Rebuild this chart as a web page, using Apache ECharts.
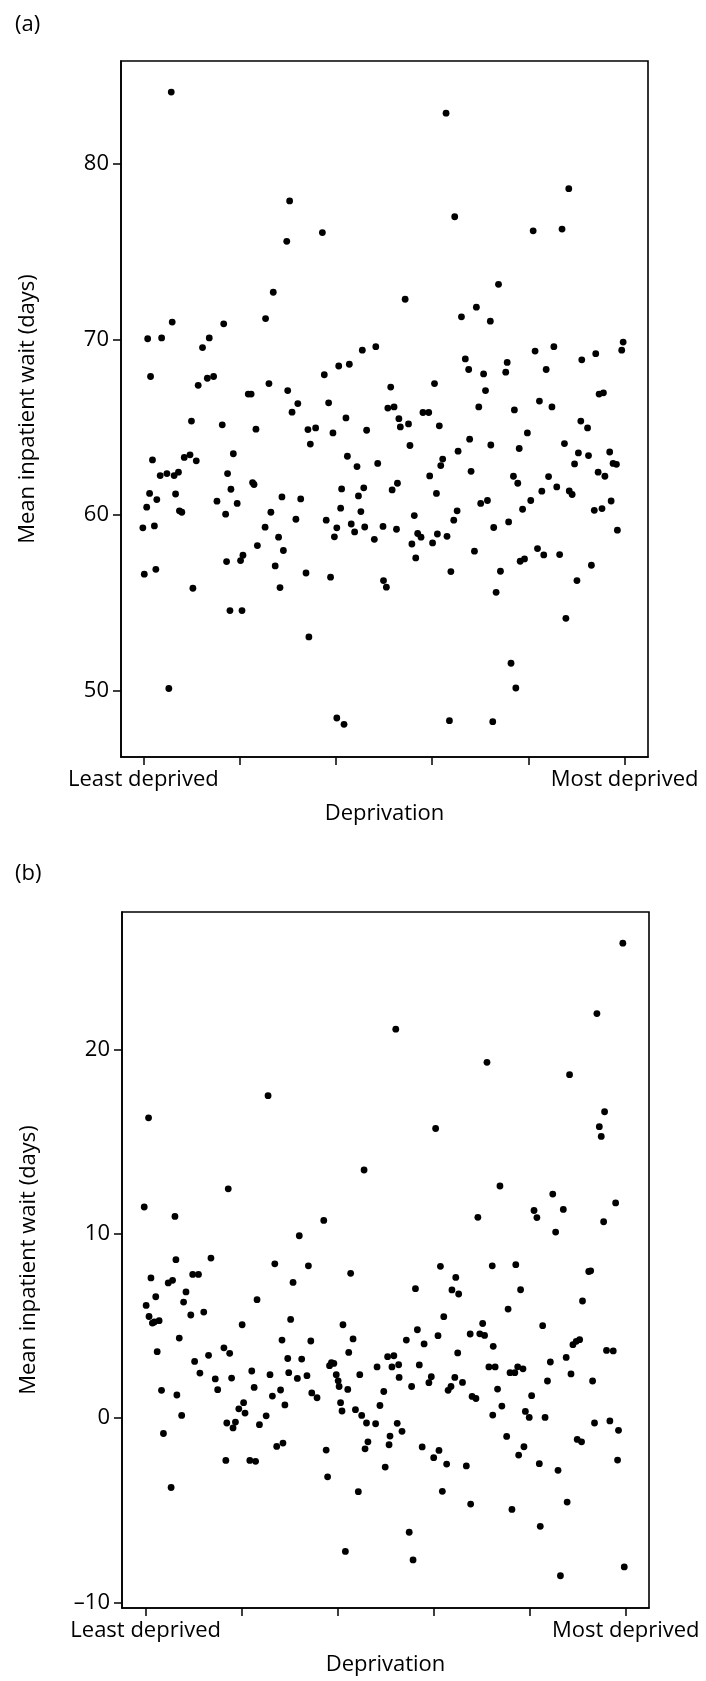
<!DOCTYPE html>
<html>
<head>
<meta charset="utf-8">
<script src="https://cdn.jsdelivr.net/npm/echarts@6/dist/echarts.min.js"></script>
<style>
html,body{margin:0;padding:0;background:#fff;}
#chart{width:706px;height:1681px;}
</style>
</head>
<body>
<div id="chart"></div>
<script>
// ---------- DATA ----------
const panelLabels = ['(a)', '(b)'];
const xTickValues = [0, 20, 40, 60, 80, 100];
const xTickLabels = { 0: 'Least deprived', 100: 'Most deprived' };
const xAxisTitle = 'Deprivation';
const yAxisTitle = 'Mean inpatient wait (days)';
const yTicksA = [50, 60, 70, 80];
const yTicksB = [-10, 0, 10, 20];

// panel (a): [deprivation position, mean wait]
const pointsA = [
[5.8,84.1],[30.4,77.9],[29.8,75.6],[37.2,76.1],[27.0,72.7],[25.4,71.2],[0.9,70.05],[3.8,70.1],[6.0,71.0],[16.7,70.9],[13.7,70.1],[12.3,69.55],[1.5,67.9],[11.4,67.4],[13.3,67.8],[14.6,67.9],[21.8,66.9],[22.4,66.9],[26.1,67.5],[30.0,67.1],[37.6,68.0],[40.6,68.5],[42.8,68.6],[45.5,69.4],[48.3,69.6],[51.4,67.3],
[62.9,82.9],[64.7,77.0],[88.4,78.6],[81.0,76.2],[87.0,76.3],[73.8,73.15],[54.4,72.3],[66.1,71.3],[69.2,71.85],[72.1,71.05],[66.9,68.9],[67.6,68.3],[70.7,68.05],[71.1,67.1],[75.3,68.15],[75.6,68.7],[81.4,69.35],[85.3,69.6],[83.7,68.3],[91.1,68.85],[94.0,69.2],[99.7,69.86],[99.4,69.4],[60.5,67.5],[94.7,66.9],[95.6,66.97],
[32.1,66.36],[30.9,65.87],[38.5,66.4],[10.0,65.36],[16.4,65.15],[23.4,64.9],[34.2,64.88],[35.8,64.97],[39.4,64.69],[42.1,65.54],[46.4,64.84],[50.8,66.1],[52.1,66.17],[53.1,65.5],[53.4,65.03],
[1.9,63.15],[3.5,62.26],[4.9,62.37],[6.4,62.26],[7.3,62.45],[8.5,63.29],[9.7,63.44],[11.0,63.1],[1.3,61.24],[0.7,60.46],[2.8,60.89],[6.7,61.21],[7.5,60.25],[8.0,60.17],[-0.1,59.28],[2.3,59.39],[0.2,56.64],[2.6,56.92],[10.3,55.84],[5.3,50.13],
[15.3,60.8],[17.1,60.06],[17.5,62.37],[18.2,61.48],[18.7,63.5],[19.5,60.67],[17.3,57.36],[20.2,57.42],[20.7,57.72],[18.0,54.57],[20.5,54.57],[22.7,61.86],[23.0,61.75],[23.7,58.27],[25.3,59.32],[26.5,60.17],[28.1,58.75],[28.8,61.04],[29.1,57.99],[27.4,57.11],[28.4,55.88],[31.7,59.77],[32.7,60.93],[34.7,64.05],[33.8,56.71],[34.4,53.07],[40.2,48.45],[41.7,48.09],[38.0,59.72],[38.9,56.47],[39.7,58.77],[40.2,59.28],[41.0,60.4],[41.2,61.5],[42.4,63.36],[44.4,62.77],[43.2,59.5],[43.9,59.05],[44.7,61.1],[45.2,60.21],[45.8,61.56],[46.0,59.33],[48.0,58.63],[48.7,62.95],[49.8,59.36],[49.9,56.28],[50.5,55.9],[51.7,61.44],[52.8,61.82],[52.6,59.2],
[55.1,65.2],[55.4,63.97],[58.1,65.85],[59.3,65.85],[61.5,65.09],[69.7,66.17],[77.1,66.0],[82.3,66.5],[84.9,66.17],[90.9,65.36],[92.3,64.97],[79.8,64.69],[67.8,64.33],[65.4,63.65],[72.2,64.0],[78.1,63.8],[87.5,64.08],[90.4,63.55],[92.5,63.4],[96.9,63.6],[89.6,62.92],[97.6,62.95],[98.3,62.9],[94.5,62.45],[95.9,62.22],[62.2,63.2],[61.8,62.83],[59.5,62.24],[68.1,62.5],[60.9,61.24],[76.9,62.22],[77.8,61.82],[84.2,62.2],[85.9,61.61],[82.8,61.37],[88.5,61.38],[89.1,61.18],[80.5,60.84],[78.8,60.34],[70.1,60.67],[71.5,60.84],[65.2,60.25],[64.5,59.72],[56.3,59.98],[57.0,58.96],[57.7,58.75],[55.8,58.36],[56.6,57.57],[60.1,58.42],[61.1,58.93],[63.1,58.8],[63.9,56.79],[68.8,57.95],[72.8,59.3],[75.9,59.62],[93.7,60.28],[95.3,60.38],[97.2,60.81],[98.5,59.15],[78.3,57.38],[79.2,57.51],[81.9,58.1],[83.2,57.74],[86.5,57.76],[93.1,57.15],[90.1,56.28],[74.2,56.81],[73.3,55.61],[87.8,54.13],[76.4,51.57],[77.4,50.16],[63.6,48.3],[72.6,48.24]
];

// panel (b): [deprivation position, mean wait]
const pointsB = [
[0.6,16.29],[25.5,17.49],[52.1,21.1],[-0.3,11.45],[6.1,10.94],[17.2,12.44],[37.1,10.72],[45.5,13.46],[32.0,9.89],
[99.4,25.77],[94.0,21.95],[71.1,19.3],[88.3,18.63],[60.4,15.71],[95.6,16.62],[94.5,15.81],[94.9,15.28],[73.8,12.59],[84.8,12.15],[97.9,11.67],[69.2,10.89],[80.9,11.26],[81.5,10.88],[87.0,11.32],[95.4,10.65],[85.4,10.09],
[6.3,8.59],[13.6,8.68],[1.1,7.6],[4.7,7.33],[5.6,7.47],[9.8,7.79],[11.0,7.79],[2.1,6.58],[0.1,6.11],[8.4,6.84],[7.9,6.29],[0.7,5.51],[1.4,5.15],[1.8,5.21],[2.8,5.28],[9.4,5.59],[12.1,5.75],[23.2,6.42],[26.9,8.37],[33.9,8.26],[42.7,7.85],[30.7,7.36],[30.2,5.35],[20.1,5.06],[41.1,5.06],[2.4,3.6],[7.0,4.34],[3.3,1.5],[6.5,1.25],[7.5,0.14],[3.7,-0.84],[5.3,-3.77],[10.2,3.07],[11.3,2.44],[13.1,3.4],[14.5,2.12],[15.0,1.54],[16.3,3.81],[17.5,3.51],[17.9,2.17],[16.9,-0.27],[18.2,-0.54],[18.7,-0.22],[16.7,-2.3],[19.4,0.5],[20.4,0.83],[20.7,0.27],[22.1,2.55],[22.6,1.66],[21.7,-2.3],[22.9,-2.35],[23.7,-0.36],[25.1,0.12],[25.9,2.35],[26.4,1.19],[28.1,1.52],[28.4,4.23],[29.0,0.71],[29.6,3.23],[29.8,2.46],[27.3,-1.54],[28.6,-1.36],[31.6,2.15],[32.5,3.2],[33.6,2.3],[34.4,4.18],[34.6,1.36],[35.7,1.1],[37.6,-1.74],[37.9,-3.19],[38.3,2.84],[38.7,3.0],[39.2,2.96],[39.7,2.35],[40.1,2.02],[40.3,1.71],[40.6,0.83],[40.9,0.38],[41.6,-7.24],[42.1,1.55],[42.3,3.56],[43.2,4.29],[43.7,0.45],[44.3,-4.0],[44.6,2.35],[45.0,0.14],[45.7,-1.67],[46.0,-0.27],[46.3,-1.29],[47.9,-0.31],[48.2,2.77],[48.8,0.68],[49.6,1.44],[49.9,-2.66],[50.4,3.33],[51.7,3.38],[51.3,2.77],[50.7,-1.45],[50.9,-0.98],[52.4,-0.29],[52.7,2.89],[52.8,2.2],
[53.4,-0.72],[54.9,-6.2],[55.7,-7.7],[55.4,1.71],[54.3,4.23],[56.2,7.02],[56.6,4.79],[57.0,2.88],[57.6,-1.57],[58.0,4.02],[59.0,1.92],[59.5,2.24],[60.0,-2.15],[61.1,-1.76],[61.4,8.23],[60.9,4.47],[61.8,-3.98],[62.1,5.5],[62.7,-2.5],[63.0,1.5],[63.6,1.71],[63.8,6.95],[64.6,7.63],[65.2,6.73],[64.4,2.2],[65.0,3.53],[66.0,1.93],[66.8,-2.6],[67.6,4.56],[67.7,-4.67],[68.0,1.17],[68.8,1.06],[69.6,4.57],[70.6,4.48],[70.2,5.13],[71.5,2.77],[72.8,2.77],[72.2,8.26],[72.4,3.89],[72.3,0.16],[73.3,1.57],[74.2,0.65],[75.2,-1.0],[75.5,5.91],[76.3,-4.96],[75.9,2.46],[76.9,2.46],[77.1,8.32],[77.5,2.78],[78.6,2.67],[78.1,6.96],[77.7,-2.01],[78.8,-1.56],[79.1,0.36],[79.9,0.03],[80.4,1.21],[82.0,-2.48],[82.2,-5.88],[82.7,5.01],[83.2,0.03],[83.7,2.01],[84.3,3.04],[85.9,-2.84],[86.4,-8.56],[87.6,3.29],[87.8,-4.56],[88.6,2.39],[89.0,3.98],[89.7,4.16],[90.4,4.25],[89.9,-1.16],[90.8,-1.29],[91.0,6.35],[92.3,7.95],[92.7,7.99],[93.1,2.01],[93.5,-0.27],[96.0,3.67],[97.4,3.64],[96.7,-0.16],[98.5,-0.67],[98.3,-2.28],[99.7,-8.08]
];

// ---------- STYLE / LAYOUT ----------
const FONT = '"Open Sans", "Noto Sans", sans-serif';
const FS = 22;
const black = '#000';

function xAxisCfg(gridIndex, min, max) {
  return {
    type: 'value', gridIndex: gridIndex, min: min, max: max,
    name: xAxisTitle, nameLocation: 'middle', nameGap: 46,
    nameTextStyle: { fontFamily: FONT, fontSize: FS, color: black },
    axisLine: { show: true, onZero: false, lineStyle: { color: black, width: 1.6 } },
    axisTick: { show: true, length: 8, lineStyle: { color: black, width: 1.5 }, customValues: xTickValues },
    axisLabel: { show: true, margin: 12, fontFamily: FONT, fontSize: FS, color: black,
      customValues: [0, 100], formatter: v => xTickLabels[v] || '' },
    splitLine: { show: false }
  };
}
function yAxisCfg(gridIndex, min, max, ticks) {
  return {
    type: 'value', gridIndex: gridIndex, min: min, max: max,
    name: yAxisTitle, nameLocation: 'middle', nameGap: 82, nameRotate: 90,
    nameTextStyle: { fontFamily: FONT, fontSize: FS, color: black },
    axisLine: { show: true, onZero: false, lineStyle: { color: black, width: 1.6 } },
    axisTick: { show: true, length: 8, lineStyle: { color: black, width: 1.5 }, customValues: ticks },
    axisLabel: { show: true, margin: 12, fontFamily: FONT, fontSize: FS, color: black,
      customValues: ticks, formatter: v => (v < 0 ? '\u2013' + Math.abs(v) : String(v)) },
    splitLine: { show: false }
  };
}

const chart = echarts.init(document.getElementById('chart'), null, { renderer: 'canvas' });
chart.setOption({
  animation: false,
  backgroundColor: '#fff',
  title: [
    { text: panelLabels[0], left: 10, top: 9, textStyle: { fontFamily: FONT, fontSize: FS, fontWeight: 'normal', color: black } },
    { text: panelLabels[1], left: 10, top: 858, textStyle: { fontFamily: FONT, fontSize: FS, fontWeight: 'normal', color: black } }
  ],
  grid: [
    { left: 121, right: 58, top: 61, bottom: 924, show: true, borderColor: black, borderWidth: 1.6, backgroundColor: 'transparent' },
    { left: 122, right: 57, top: 912, bottom: 73, show: true, borderColor: black, borderWidth: 1.6, backgroundColor: 'transparent' }
  ],
  xAxis: [ xAxisCfg(0, -4.64, 104.86), xAxisCfg(1, -4.93, 104.85) ],
  yAxis: [ yAxisCfg(0, 46.23, 85.87, yTicksA), yAxisCfg(1, -10.31, 27.46, yTicksB) ],
  series: [
    { type: 'scatter', xAxisIndex: 0, yAxisIndex: 0, data: pointsA, symbol: 'circle', symbolSize: 6.8,
      itemStyle: { color: black, opacity: 1 }, silent: true },
    { type: 'scatter', xAxisIndex: 1, yAxisIndex: 1, data: pointsB, symbol: 'circle', symbolSize: 6.8,
      itemStyle: { color: black, opacity: 1 }, silent: true }
  ]
});
</script>
</body>
</html>
